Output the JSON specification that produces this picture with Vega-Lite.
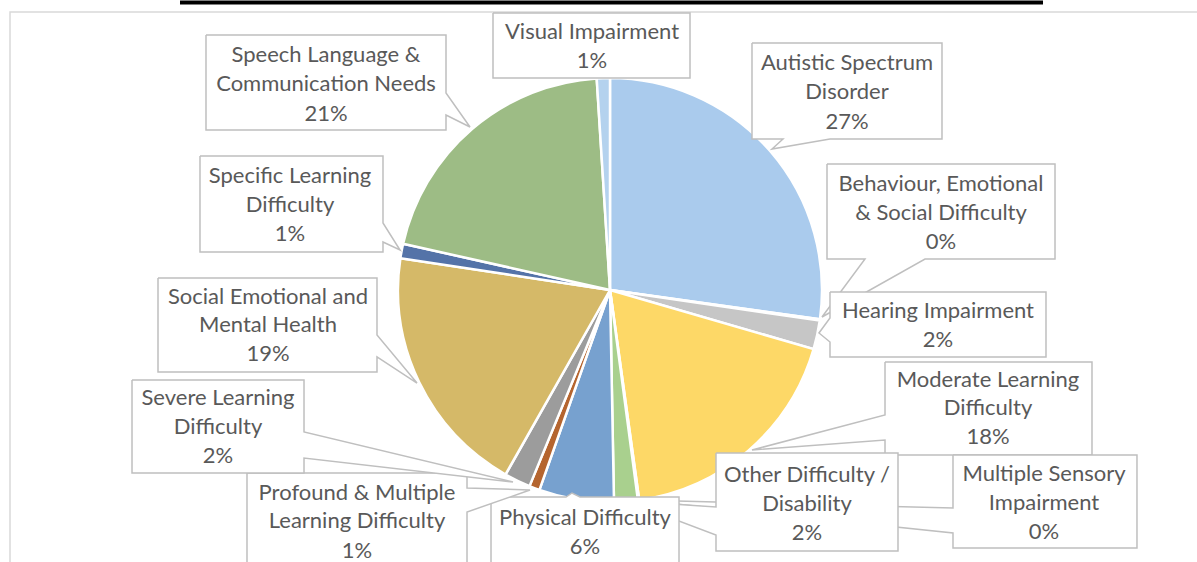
{
  "$schema": "https://vega.github.io/schema/vega-lite/v6.json",
  "width": 1197,
  "height": 562,
  "autosize": {"type": "none"},
  "padding": 0,
  "background": "white",
  "config": {"view": {"stroke": null}},
  "datasets": {
    "slices": [
      {"idx": 1, "cat": "Autistic Spectrum Disorder", "pct": 27.2},
      {"idx": 2, "cat": "Behaviour, Emotional & Social Difficulty", "pct": 0.1},
      {"idx": 3, "cat": "Hearing Impairment", "pct": 2.2},
      {"idx": 4, "cat": "Moderate Learning Difficulty", "pct": 18.3},
      {"idx": 5, "cat": "Multiple Sensory Impairment", "pct": 0.1},
      {"idx": 6, "cat": "Other Difficulty / Disability", "pct": 1.8},
      {"idx": 7, "cat": "Physical Difficulty", "pct": 5.7},
      {"idx": 8, "cat": "Profound & Multiple Learning Difficulty", "pct": 0.8},
      {"idx": 9, "cat": "Severe Learning Difficulty", "pct": 2.0},
      {"idx": 10, "cat": "Social Emotional and Mental Health", "pct": 19.2},
      {"idx": 11, "cat": "Specific Learning Difficulty", "pct": 1.1},
      {"idx": 12, "cat": "Speech Language & Communication Needs", "pct": 20.5},
      {"idx": 13, "cat": "Visual Impairment", "pct": 1.0}
    ],
    "frame": [
      {"k": 1, "u": 280, "v": 131.13},
      {"k": 2, "u": -283.02, "v": 131.13},
      {"k": 3, "u": -283.02, "v": -131}
    ],
    "titlebar": [{"u1": -202.83, "u2": 204.25, "v": 135.57}],
    "callouts": [
      {"id": "01", "k": 1, "u": 66.98, "v": 116.51}, {"id": "01", "k": 2, "u": 156.6, "v": 116.51}, {"id": "01", "k": 3, "u": 156.6, "v": 71.23}, {"id": "01", "k": 4, "u": 103.77, "v": 71.23}, {"id": "01", "k": 5, "u": 76.42, "v": 66.51}, {"id": "01", "k": 6, "u": 81.6, "v": 71.23}, {"id": "01", "k": 7, "u": 66.98, "v": 71.23}, {"id": "01", "k": 8, "u": 66.98, "v": 116.51},
      {"id": "02", "k": 1, "u": 102.36, "v": 59.43}, {"id": "02", "k": 2, "u": 209.91, "v": 59.43}, {"id": "02", "k": 3, "u": 209.91, "v": 14.62}, {"id": "02", "k": 4, "u": 148.58, "v": 14.62}, {"id": "02", "k": 5, "u": 100.0, "v": -12.74}, {"id": "02", "k": 6, "u": 120.28, "v": 14.62}, {"id": "02", "k": 7, "u": 102.36, "v": 14.62}, {"id": "02", "k": 8, "u": 102.36, "v": 59.43},
      {"id": "03", "k": 1, "u": 103.77, "v": -0.94}, {"id": "03", "k": 2, "u": 205.66, "v": -0.94}, {"id": "03", "k": 3, "u": 205.66, "v": -31.6}, {"id": "03", "k": 4, "u": 103.77, "v": -31.6}, {"id": "03", "k": 5, "u": 103.77, "v": -24.53}, {"id": "03", "k": 6, "u": 98.58, "v": -20.28}, {"id": "03", "k": 7, "u": 103.77, "v": -13.21}, {"id": "03", "k": 8, "u": 103.77, "v": -0.94},
      {"id": "04", "k": 1, "u": 129.72, "v": -33.96}, {"id": "04", "k": 2, "u": 227.36, "v": -33.96}, {"id": "04", "k": 3, "u": 227.36, "v": -77.83}, {"id": "04", "k": 4, "u": 129.72, "v": -77.83}, {"id": "04", "k": 5, "u": 129.72, "v": -70.75}, {"id": "04", "k": 6, "u": 66.98, "v": -75.47}, {"id": "04", "k": 7, "u": 129.72, "v": -58.96}, {"id": "04", "k": 8, "u": 129.72, "v": -33.96},
      {"id": "05", "k": 1, "u": 161.79, "v": -77.83}, {"id": "05", "k": 2, "u": 248.58, "v": -77.83}, {"id": "05", "k": 3, "u": 248.58, "v": -121.7}, {"id": "05", "k": 4, "u": 161.79, "v": -121.7}, {"id": "05", "k": 5, "u": 161.79, "v": -114.62}, {"id": "05", "k": 6, "u": 13.21, "v": -99.06}, {"id": "05", "k": 7, "u": 161.79, "v": -102.83}, {"id": "05", "k": 8, "u": 161.79, "v": -77.83},
      {"id": "06", "k": 1, "u": 50.0, "v": -76.89}, {"id": "06", "k": 2, "u": 135.85, "v": -76.89}, {"id": "06", "k": 3, "u": 135.85, "v": -123.11}, {"id": "06", "k": 4, "u": 50.0, "v": -123.11}, {"id": "06", "k": 5, "u": 50.0, "v": -115.57}, {"id": "06", "k": 6, "u": 7.55, "v": -99.53}, {"id": "06", "k": 7, "u": 50.0, "v": -102.36}, {"id": "06", "k": 8, "u": 50.0, "v": -76.89},
      {"id": "07", "k": 1, "u": -56.13, "v": -97.64}, {"id": "07", "k": 2, "u": -20.75, "v": -97.64}, {"id": "07", "k": 3, "u": -17.92, "v": -95.75}, {"id": "07", "k": 4, "u": -14.15, "v": -97.64}, {"id": "07", "k": 5, "u": 32.55, "v": -97.64}, {"id": "07", "k": 6, "u": 32.55, "v": -146.23}, {"id": "07", "k": 7, "u": -56.13, "v": -146.23}, {"id": "07", "k": 8, "u": -56.13, "v": -97.64},
      {"id": "08", "k": 1, "u": -171.23, "v": -86.32}, {"id": "08", "k": 2, "u": -67.45, "v": -86.32}, {"id": "08", "k": 3, "u": -67.45, "v": -93.4}, {"id": "08", "k": 4, "u": -37.74, "v": -94.34}, {"id": "08", "k": 5, "u": -67.45, "v": -104.72}, {"id": "08", "k": 6, "u": -67.45, "v": -146.23}, {"id": "08", "k": 7, "u": -171.23, "v": -146.23}, {"id": "08", "k": 8, "u": -171.23, "v": -86.32},
      {"id": "09", "k": 1, "u": -225.47, "v": -42.45}, {"id": "09", "k": 2, "u": -144.34, "v": -42.45}, {"id": "09", "k": 3, "u": -144.34, "v": -66.98}, {"id": "09", "k": 4, "u": -45.75, "v": -90.57}, {"id": "09", "k": 5, "u": -144.34, "v": -79.25}, {"id": "09", "k": 6, "u": -144.34, "v": -86.32}, {"id": "09", "k": 7, "u": -225.47, "v": -86.32}, {"id": "09", "k": 8, "u": -225.47, "v": -42.45},
      {"id": "10", "k": 1, "u": -213.21, "v": 5.66}, {"id": "10", "k": 2, "u": -109.91, "v": 5.66}, {"id": "10", "k": 3, "u": -109.91, "v": -21.23}, {"id": "10", "k": 4, "u": -91.04, "v": -43.87}, {"id": "10", "k": 5, "u": -109.91, "v": -31.6}, {"id": "10", "k": 6, "u": -109.91, "v": -38.68}, {"id": "10", "k": 7, "u": -213.21, "v": -38.68}, {"id": "10", "k": 8, "u": -213.21, "v": 5.66},
      {"id": "11", "k": 1, "u": -193.4, "v": 63.21}, {"id": "11", "k": 2, "u": -107.08, "v": 63.21}, {"id": "11", "k": 3, "u": -107.08, "v": 31.6}, {"id": "11", "k": 4, "u": -99.06, "v": 18.87}, {"id": "11", "k": 5, "u": -107.08, "v": 22.64}, {"id": "11", "k": 6, "u": -107.08, "v": 17.92}, {"id": "11", "k": 7, "u": -193.4, "v": 17.92}, {"id": "11", "k": 8, "u": -193.4, "v": 63.21},
      {"id": "12", "k": 1, "u": -190.57, "v": 120.28}, {"id": "12", "k": 2, "u": -77.36, "v": 120.28}, {"id": "12", "k": 3, "u": -77.36, "v": 92.92}, {"id": "12", "k": 4, "u": -66.04, "v": 76.89}, {"id": "12", "k": 5, "u": -77.36, "v": 82.55}, {"id": "12", "k": 6, "u": -77.36, "v": 75.47}, {"id": "12", "k": 7, "u": -190.57, "v": 75.47}, {"id": "12", "k": 8, "u": -190.57, "v": 120.28},
      {"id": "13", "k": 1, "u": -55.19, "v": 130.66}, {"id": "13", "k": 2, "u": 37.74, "v": 130.66}, {"id": "13", "k": 3, "u": 37.74, "v": 100.0}, {"id": "13", "k": 4, "u": -55.19, "v": 100.0}, {"id": "13", "k": 5, "u": -55.19, "v": 130.66}
    ],
    "labels": [
      {"u": 111.79, "v": 107.08, "t": "Autistic Spectrum"}, {"u": 111.79, "v": 93.4, "t": "Disorder"}, {"u": 111.79, "v": 79.25, "t": "27%"},
      {"u": 156.13, "v": 50.0, "t": "Behaviour, Emotional"}, {"u": 156.13, "v": 36.32, "t": "& Social Difficulty"}, {"u": 156.13, "v": 22.64, "t": "0%"},
      {"u": 154.72, "v": -9.91, "t": "Hearing Impairment"}, {"u": 154.72, "v": -23.58, "t": "2%"},
      {"u": 178.3, "v": -42.45, "t": "Moderate Learning"}, {"u": 178.3, "v": -55.66, "t": "Difficulty"}, {"u": 178.3, "v": -69.34, "t": "18%"},
      {"u": 204.72, "v": -86.79, "t": "Multiple Sensory"}, {"u": 204.72, "v": -100.47, "t": "Impairment"}, {"u": 204.72, "v": -114.15, "t": "0%"},
      {"u": 92.92, "v": -87.26, "t": "Other Difficulty /"}, {"u": 92.92, "v": -100.94, "t": "Disability"}, {"u": 92.92, "v": -114.62, "t": "2%"},
      {"u": -11.79, "v": -107.55, "t": "Physical Difficulty"}, {"u": -11.79, "v": -121.23, "t": "6%"},
      {"u": -119.34, "v": -95.75, "t": "Profound & Multiple"}, {"u": -119.34, "v": -108.96, "t": "Learning Difficulty"}, {"u": -119.34, "v": -123.11, "t": "1%"},
      {"u": -184.91, "v": -50.94, "t": "Severe Learning"}, {"u": -184.91, "v": -64.62, "t": "Difficulty"}, {"u": -184.91, "v": -78.3, "t": "2%"},
      {"u": -161.32, "v": -3.3, "t": "Social Emotional and"}, {"u": -161.32, "v": -16.51, "t": "Mental Health"}, {"u": -161.32, "v": -30.19, "t": "19%"},
      {"u": -150.94, "v": 53.77, "t": "Specific Learning"}, {"u": -150.94, "v": 40.09, "t": "Difficulty"}, {"u": -150.94, "v": 26.42, "t": "1%"},
      {"u": -133.96, "v": 110.85, "t": "Speech Language &"}, {"u": -133.96, "v": 97.17, "t": "Communication Needs"}, {"u": -133.96, "v": 83.02, "t": "21%"},
      {"u": -8.49, "v": 121.7, "t": "Visual Impairment"}, {"u": -8.49, "v": 108.02, "t": "1%"}
    ]
  },
  "layer": [
    {
      "data": {"name": "frame"},
      "mark": {"type": "line", "stroke": "#D9D9D9", "strokeWidth": 1.5},
      "encoding": {
        "x": {"field": "u", "type": "quantitative", "scale": {"domain": [-287.74, 276.89], "nice": false, "zero": false}, "axis": null},
        "y": {"field": "v", "type": "quantitative", "scale": {"domain": [-128.3, 136.79], "nice": false, "zero": false}, "axis": null},
        "order": {"field": "k"}
      }
    },
    {
      "data": {"name": "titlebar"},
      "mark": {"type": "rule", "stroke": "#000000", "strokeWidth": 4},
      "encoding": {
        "x": {"field": "u1", "type": "quantitative"},
        "x2": {"field": "u2"},
        "y": {"field": "v", "type": "quantitative"}
      }
    },
    {
      "data": {"name": "slices"},
      "mark": {"type": "arc", "radius": 212, "stroke": "white", "strokeWidth": 2.5},
      "encoding": {
        "x": {"datum": 0, "type": "quantitative"},
        "y": {"datum": 0, "type": "quantitative"},
        "theta": {"field": "pct", "type": "quantitative", "stack": true},
        "order": {"field": "idx"},
        "color": {
          "field": "cat", "type": "nominal", "legend": null,
          "scale": {
            "domain": ["Autistic Spectrum Disorder", "Behaviour, Emotional & Social Difficulty", "Hearing Impairment", "Moderate Learning Difficulty", "Multiple Sensory Impairment", "Other Difficulty / Disability", "Physical Difficulty", "Profound & Multiple Learning Difficulty", "Severe Learning Difficulty", "Social Emotional and Mental Health", "Specific Learning Difficulty", "Speech Language & Communication Needs", "Visual Impairment"],
            "range": ["#AACBED", "#F2A672", "#C6C6C6", "#FDD867", "#8FAADC", "#A9D08E", "#77A1CF", "#B5652F", "#9C9C9C", "#D5B968", "#5473A8", "#9DBC85", "#B4D2EE"]
          }
        }
      }
    },
    {
      "data": {"name": "callouts"},
      "mark": {"type": "line", "fill": "white", "stroke": "#BFBFBF", "strokeWidth": 1.5, "strokeJoin": "miter"},
      "encoding": {
        "x": {"field": "u", "type": "quantitative"},
        "y": {"field": "v", "type": "quantitative"},
        "detail": {"field": "id"},
        "order": {"field": "k"}
      }
    },
    {
      "data": {"name": "labels"},
      "mark": {"type": "text", "font": "Lato", "fontSize": 22, "color": "#595959", "align": "center", "baseline": "middle"},
      "encoding": {
        "x": {"field": "u", "type": "quantitative"},
        "y": {"field": "v", "type": "quantitative"},
        "text": {"field": "t"}
      }
    }
  ]
}
